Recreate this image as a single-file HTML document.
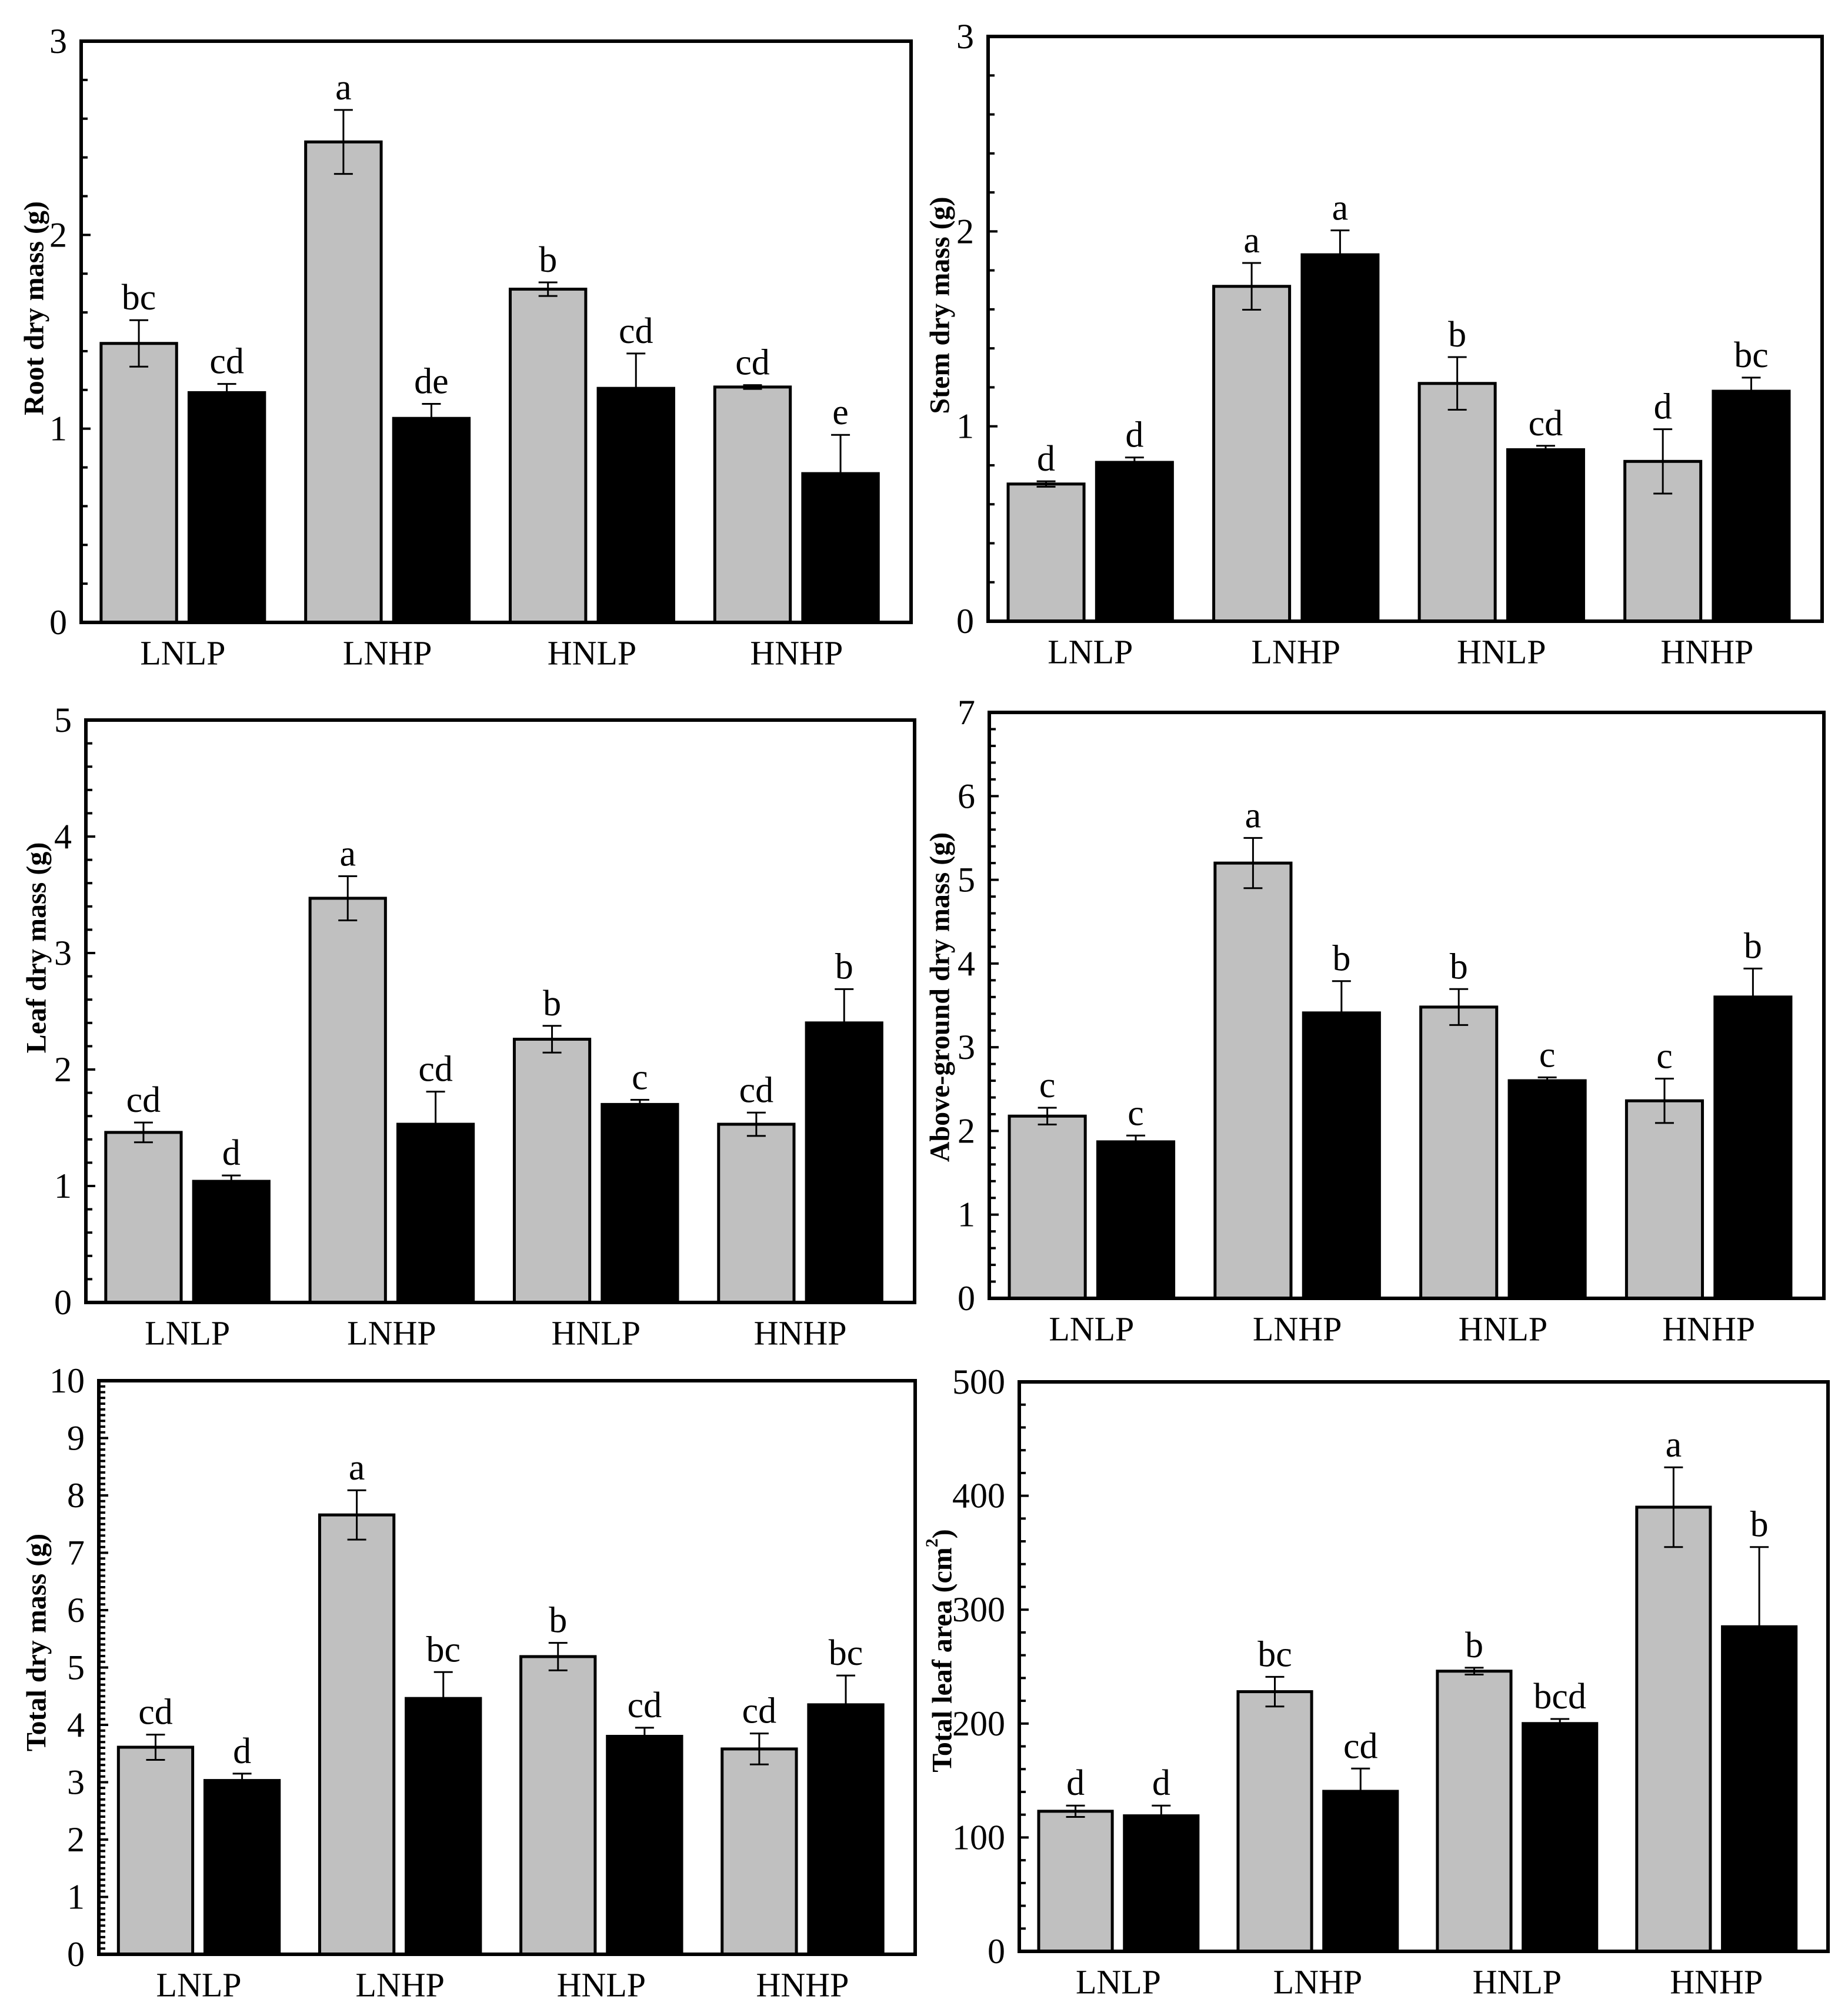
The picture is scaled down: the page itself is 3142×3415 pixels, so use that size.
<!DOCTYPE html>
<html><head><meta charset="utf-8"><style>
html,body{margin:0;padding:0;background:#fff;}
svg{display:block;}
text{font-family:"Liberation Serif","DejaVu Serif",serif;fill:#000;}
</style></head><body>
<svg id="fig" xmlns="http://www.w3.org/2000/svg" width="3142" height="3415" viewBox="0 0 3142 3415">
<rect x="0" y="0" width="3142" height="3415" fill="#fff"/>
</svg>
<script>
const categories=["LNLP","LNHP","HNLP","HNHP"];

const rootGray=[1.44,2.48,1.72,1.215];
const rootGrayErr=[0.12,0.165,0.035,0.01];
const rootBlack=[1.186,1.053,1.208,0.768];
const rootBlackErr=[0.045,0.075,0.18,0.2];
const rootGrayLetters=["bc","a","b","cd"];
const rootBlackLetters=["cd","de","cd","e"];

const stemGray=[0.704,1.718,1.22,0.82];
const stemGrayErr=[0.014,0.12,0.135,0.165];
const stemBlack=[0.815,1.88,0.88,1.18];
const stemBlackErr=[0.025,0.125,0.02,0.07];
const stemGrayLetters=["d","a","b","d"];
const stemBlackLetters=["d","a","cd","bc"];

const leafGray=[1.46,3.47,2.26,1.53];
const leafGrayErr=[0.085,0.19,0.115,0.1];
const leafBlack=[1.04,1.53,1.70,2.40];
const leafBlackErr=[0.05,0.28,0.04,0.29];
const leafGrayLetters=["cd","a","b","cd"];
const leafBlackLetters=["d","cd","c","b"];

const aboveGray=[2.177,5.20,3.48,2.36];
const aboveGrayErr=[0.1,0.3,0.215,0.265];
const aboveBlack=[1.87,3.41,2.60,3.60];
const aboveBlackErr=[0.075,0.38,0.04,0.34];
const aboveGrayLetters=["c","a","b","c"];
const aboveBlackLetters=["c","b","c","b"];

const totalGray=[3.61,7.66,5.19,3.58];
const totalGrayErr=[0.22,0.43,0.24,0.27];
const totalBlack=[3.03,4.46,3.80,4.35];
const totalBlackErr=[0.12,0.46,0.15,0.51];
const totalGrayLetters=["cd","a","b","cd"];
const totalBlackLetters=["d","bc","cd","bc"];

const areaGray=[123,228,246,390];
const areaGrayErr=[5,13,3,35];
const areaBlack=[119,140.5,200,285];
const areaBlackErr=[9,20,4,70];
const areaGrayLetters=["d","bc","b","a"];
const areaBlackLetters=["d","cd","bcd","b"];

const rootTicks=[0,1,2,3];
const stemTicks=[0,1,2,3];
const leafTicks=[0,1,2,3,4,5];
const aboveTicks=[0,1,2,3,4,5,6,7];
const totalTicks=[0,1,2,3,4,5,6,7,8,9,10];
const areaTicks=[0,100,200,300,400,500];

const NS="http://www.w3.org/2000/svg";
const svg=document.getElementById('fig');
function mk(tag,attrs,parent){const e=document.createElementNS(NS,tag);for(const k in attrs)e.setAttribute(k,attrs[k]);(parent||svg).appendChild(e);return e;}

function panel(cfg){
  const g=mk('g',{});
  
  
  const {L,R,T,B,ymax}=cfg;
  const W=R-L;
  const y=v=>B-(v/ymax)*(B-T);
  const nMinor=Math.round(ymax/cfg.minor);
  for(let i=1;i<nMinor;i++){
    const v=i*cfg.minor;
    const isMajor=cfg.ticks.some(t=>Math.abs(t-v)<1e-9);
    const t=mk('line',{x1:L,x2:L+(isMajor?16:11),y1:y(v),y2:y(v),stroke:'#000','stroke-width':4},g);
    
    
  }
  cfg.ticks.forEach(v=>{
    const t=mk('text',{x:L-24,y:y(v),'text-anchor':'end','dominant-baseline':'central','font-size':60},g);
    
    
    t.textContent=String(v);
  });
  const bw=W*0.091;
  categories.forEach((c,i)=>{
    const gx=L+W*(0.024+0.2465*i);
    const bx=gx+W*0.106;
    const series=[
      {x:gx,v:cfg.gray[i],e:cfg.grayErr[i],fill:'#c0c0c0',lt:cfg.grayLetters[i],nm:'gray-bar-'+c.toLowerCase()},
      {x:bx,v:cfg.black[i],e:cfg.blackErr[i],fill:'#000',lt:cfg.blackLetters[i],nm:'black-bar-'+c.toLowerCase()}
    ];
    series.forEach(s=>{
      const r=mk('rect',{x:s.x,y:y(s.v),width:bw,height:B-y(s.v),fill:s.fill,stroke:'#000','stroke-width':5},g);
      
      
      const cx=s.x+bw/2;
      const eg=mk('g',{},g);
      
      
      const hi=y(s.v+s.e), lo=y(s.v-s.e);
      mk('line',{x1:cx,x2:cx,y1:hi,y2:lo,stroke:'#000','stroke-width':3},eg);
      mk('line',{x1:cx-16,x2:cx+16,y1:hi,y2:hi,stroke:'#000','stroke-width':3},eg);
      mk('line',{x1:cx-16,x2:cx+16,y1:lo,y2:lo,stroke:'#000','stroke-width':3},eg);
      const lt=mk('text',{x:cx,y:hi-18,'text-anchor':'middle','font-size':62},g);
      
      
      lt.textContent=s.lt;
    });
    const cl=mk('text',{x:(gx+bx+bw)/2,y:B+52,'text-anchor':'middle','dominant-baseline':'central','font-size':58},g);
    
    
    cl.textContent=c;
  });
  const f=mk('rect',{x:L,y:T,width:W,height:B-T,fill:'none',stroke:'#000','stroke-width':6},g);
  
  
  const tt=mk('text',{x:cfg.tx,y:cfg.ty,'text-anchor':'middle','dominant-baseline':'central','font-size':48,'font-weight':'bold',transform:`rotate(-90 ${cfg.tx} ${cfg.ty})`},g);
  
  
  if(cfg.sup){
    tt.appendChild(document.createTextNode(cfg.title));
    const ts=mk('tspan',{'font-size':30,dy:-18},tt);
    ts.textContent=cfg.sup;
    const ts2=mk('tspan',{dy:18},tt);
    ts2.textContent=')';
  } else tt.textContent=cfg.title;
}

panel({name:'root-dry-mass-panel',L:138,R:1549,T:70,B:1058,ymax:3,minor:0.2,ticks:rootTicks,gray:rootGray,grayErr:rootGrayErr,black:rootBlack,blackErr:rootBlackErr,grayLetters:rootGrayLetters,blackLetters:rootBlackLetters,title:'Root dry mass (g)',tx:58,ty:524});
panel({name:'stem-dry-mass-panel',L:1680,R:3098,T:62,B:1056,ymax:3,minor:0.2,ticks:stemTicks,gray:stemGray,grayErr:stemGrayErr,black:stemBlack,blackErr:stemBlackErr,grayLetters:stemGrayLetters,blackLetters:stemBlackLetters,title:'Stem dry mass (g)',tx:1598,ty:519});
panel({name:'leaf-dry-mass-panel',L:146,R:1555,T:1224,B:2214,ymax:5,minor:0.2,ticks:leafTicks,gray:leafGray,grayErr:leafGrayErr,black:leafBlack,blackErr:leafBlackErr,grayLetters:leafGrayLetters,blackLetters:leafBlackLetters,title:'Leaf dry mass (g)',tx:62,ty:1611});
panel({name:'above-ground-dry-mass-panel',L:1682,R:3101,T:1211,B:2207,ymax:7,minor:0.2,ticks:aboveTicks,gray:aboveGray,grayErr:aboveGrayErr,black:aboveBlack,blackErr:aboveBlackErr,grayLetters:aboveGrayLetters,blackLetters:aboveBlackLetters,title:'Above-ground dry mass (g)',tx:1598,ty:1695});
panel({name:'total-dry-mass-panel',L:168,R:1556,T:2347,B:3322,ymax:10,minor:0.1,ticks:totalTicks,gray:totalGray,grayErr:totalGrayErr,black:totalBlack,blackErr:totalBlackErr,grayLetters:totalGrayLetters,blackLetters:totalBlackLetters,title:'Total dry mass (g)',tx:62,ty:2792});
panel({name:'total-leaf-area-panel',L:1733,R:3108,T:2349,B:3317,ymax:500,minor:20,ticks:areaTicks,gray:areaGray,grayErr:areaGrayErr,black:areaBlack,blackErr:areaBlackErr,grayLetters:areaGrayLetters,blackLetters:areaBlackLetters,title:'Total leaf area  (cm',sup:'2',tx:1602,ty:2806});
</script>
</body></html>
